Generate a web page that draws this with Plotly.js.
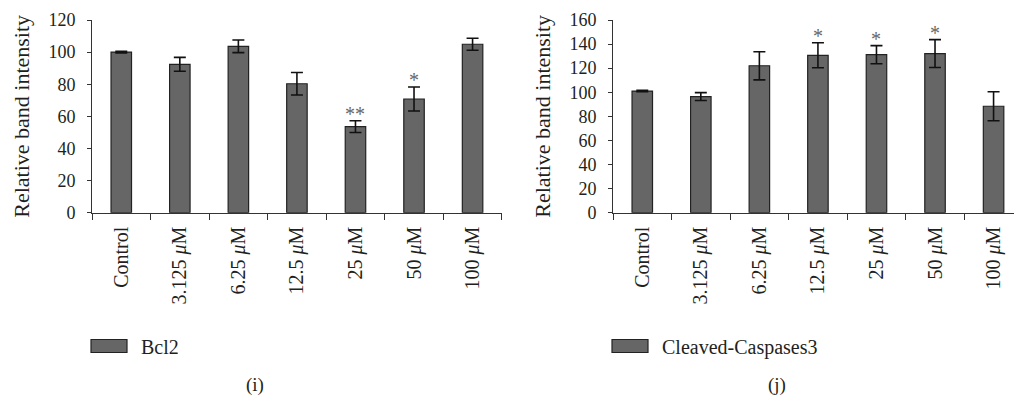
<!DOCTYPE html>
<html><head><meta charset="utf-8">
<script src="https://cdn.plot.ly/plotly-3.0.1.min.js"></script>
<style>body{margin:0;background:#fff}#chart{width:1014px;height:396px}</style>
</head><body><div id="chart"></div>
<script>
const categories = ["Control","3.125 μM","6.25 μM","12.5 μM","25 μM","50 μM","100 μM"];
const tickLabels = ["Control","3.125 <i>μ</i>M","6.25 <i>μ</i>M","12.5 <i>μ</i>M","25 <i>μ</i>M","50 <i>μ</i>M","100 <i>μ</i>M"];
const bcl2 = [100, 92.4, 103.6, 80.3, 53.6, 70.8, 104.9];
const bcl2Err = [0.5, 4.3, 3.9, 7.0, 3.7, 7.5, 3.7];
const bcl2Sig = ["", "", "", "", "**", "*", ""];
const casp = [101, 96.4, 122.0, 130.7, 131.2, 132.1, 88.4];
const caspErr = [0.6, 3.3, 11.7, 10.4, 7.5, 11.6, 12.0];
const caspSig = ["", "", "", "*", "*", "*", ""];
const seriesNames = ["Bcl2", "Cleaved-Caspases3"];
const panelLabels = ["(i)", "(j)"];

const W = 1014, H = 396;
const FONT = "Liberation Serif, Times New Roman, serif";
const TXT = "#231f20";
const barStyle = {color: "#666666", line: {color: "#222222", width: 1.2}};
const errStyle = (arr) => ({type: "data", array: arr, visible: true, color: "#111111", thickness: 1.6, width: 6});

const traces = [
  {type: "bar", name: seriesNames[0], x: categories, y: bcl2, error_y: errStyle(bcl2Err),
   marker: barStyle, width: 0.35, xaxis: "x", yaxis: "y", legend: "legend", hoverinfo: "none"},
  {type: "bar", name: seriesNames[1], x: categories, y: casp, error_y: errStyle(caspErr),
   marker: barStyle, width: 0.35, xaxis: "x2", yaxis: "y2", legend: "legend2", hoverinfo: "none"}
];

const annotations = [];
function addSig(vals, errs, sig, xr, yr) {
  sig.forEach((s, i) => {
    if (!s) return;
    annotations.push({xref: xr, yref: yr, x: categories[i], y: vals[i] + errs[i], text: s,
      showarrow: false, yanchor: "bottom", yshift: -6,
      font: {family: FONT, size: 20, color: "#666666"}});
  });
}
addSig(bcl2, bcl2Err, bcl2Sig, "x", "y");
addSig(casp, caspErr, caspSig, "x2", "y2");
annotations.push({xref: "paper", yref: "paper", x: 255 / W, y: 1 - 385 / H, text: panelLabels[0],
  showarrow: false, xanchor: "center", yanchor: "middle", font: {family: FONT, size: 19, color: TXT}});
annotations.push({xref: "paper", yref: "paper", x: 777 / W, y: 1 - 385 / H, text: panelLabels[1],
  showarrow: false, xanchor: "center", yanchor: "middle", font: {family: FONT, size: 19, color: TXT}});

const catW = 58.55;
const yTop = 1 - 20 / H, yBot = 1 - 212.7 / H;
function xAxis(x0px, x1px) {
  const span = (x1px - x0px) / catW;
  return {domain: [x0px / W, x1px / W], range: [-0.5, -0.5 + span], type: "category",
    tickmode: "array", tickvals: categories, ticktext: tickLabels, tickangle: -90,
    ticks: "outside", tickson: "boundaries", ticklen: 6, tickcolor: "#333", tickwidth: 1,
    ticklabelstandoff: 5,
    showline: true, linecolor: "#333", linewidth: 1, showgrid: false, zeroline: false,
    tickfont: {family: FONT, size: 20, color: TXT}, fixedrange: true};
}
function yAxis(max, anchor) {
  return {domain: [yBot, yTop], range: [0, max], dtick: 20, anchor: anchor,
    ticks: "outside", ticklen: 4, tickcolor: "#333", showline: true, linecolor: "#333", linewidth: 1,
    ticklabelstandoff: 8,
    showgrid: false, zeroline: false, tickfont: {family: FONT, size: 18, color: TXT},
    title: {text: "Relative band intensity", font: {family: FONT, size: 22, color: TXT}, standoff: 12},
    fixedrange: true};
}

const layout = {
  width: W, height: H, margin: {l: 0, r: 0, t: 0, b: 0}, paper_bgcolor: "#fff", plot_bgcolor: "#fff",
  showlegend: true,
  xaxis: Object.assign(xAxis(92, 502), {anchor: "y"}),
  yaxis: yAxis(120, "x"),
  xaxis2: Object.assign(xAxis(613, 1014), {anchor: "y2"}),
  yaxis2: yAxis(160, "x2"),
  legend: {x: 86 / W, y: 1 - 346 / H, xanchor: "left", yanchor: "middle", bgcolor: "rgba(0,0,0,0)",
    font: {family: FONT, size: 20, color: TXT}, itemwidth: 45},
  legend2: {x: 607 / W, y: 1 - 346 / H, xanchor: "left", yanchor: "middle", bgcolor: "rgba(0,0,0,0)",
    font: {family: FONT, size: 20, color: TXT}, itemwidth: 45},
  annotations: annotations
};

Plotly.newPlot("chart", traces, layout, {staticPlot: true}).then(() => {
  document.querySelectorAll(".legendpoints path").forEach(p => {
    p.setAttribute("d", "M-22.5,6.5H13.5V-6.5H-22.5Z");
  });
});
</script></body></html>
